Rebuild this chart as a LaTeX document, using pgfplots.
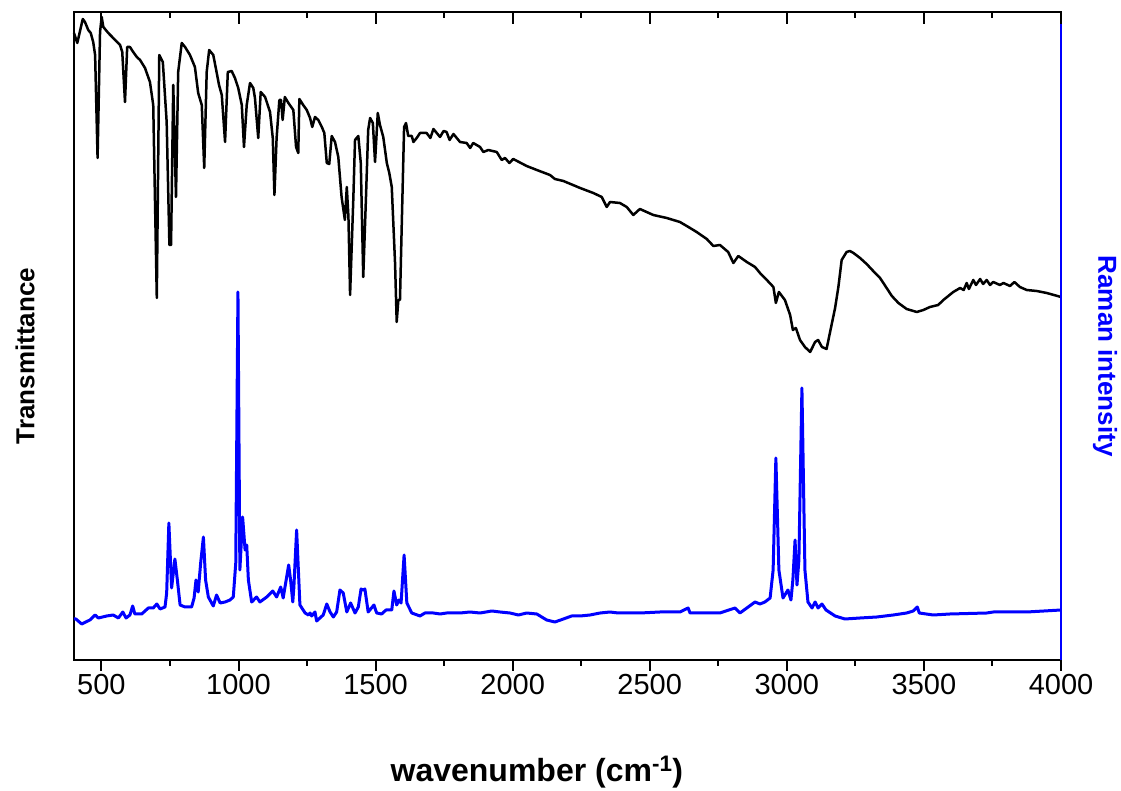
\documentclass[border=0pt]{standalone}
\usepackage{fontspec}
\setmainfont{Liberation Sans}
\usepackage{pgfplots}
\pgfplotsset{compat=1.18}
\usepackage{pgfplotstable}

% IR transmittance (arbitrary units)
\pgfplotstableread{
wn T
400 627
412 617
432 641
440 638
452 630
461 627
470 618
477 605
486 502
495 628
501 643
507 633
525 627
543 622
568 615
576 608
586 558
594 613
604 613
616 608
629 603
641 600
659 592
677 578
689 555
702 362
711 605
724 598
738 538
748 415
754 415
762 575
772 463
780 588
793 617
805 613
823 605
841 593
853 567
866 555
875 492
884 588
893 610
908 605
920 588
929 575
939 565
951 518
961 588
975 589
987 582
999 572
1012 555
1020 513
1030 555
1042 577
1054 572
1060 562
1072 522
1081 568
1097 563
1115 548
1125 522
1131 465
1139 522
1149 560
1155 560
1161 540
1169 563
1182 557
1200 550
1210 513
1218 507
1222 561
1236 555
1249 550
1261 542
1269 533
1279 543
1291 540
1304 533
1313 527
1322 497
1331 496
1340 524
1352 518
1364 503
1376 463
1388 440
1395 473
1401 443
1407 365
1419 463
1425 520
1437 524
1446 497
1455 383
1465 463
1473 530
1480 542
1490 537
1498 498
1508 547
1516 535
1528 523
1541 497
1550 487
1559 473
1571 397
1577 338
1583 360
1589 360
1595 430
1604 533
1611 537
1619 524
1632 524
1638 518
1650 522
1662 527
1686 527
1700 522
1711 531
1735 523
1748 529
1759 528
1770 520
1784 526
1808 518
1832 517
1845 512
1856 517
1881 513
1893 508
1911 510
1942 508
1960 500
1972 502
1988 497
2002 501
2051 494
2088 490
2136 485
2154 481
2185 479
2246 472
2294 467
2325 463
2343 453
2355 458
2391 457
2416 453
2440 445
2464 451
2513 445
2562 442
2610 438
2641 433
2671 428
2708 421
2732 414
2756 415
2786 408
2805 397
2823 404
2854 398
2884 393
2902 387
2927 380
2951 373
2960 357
2971 368
2993 360
3012 345
3022 330
3033 332
3048 320
3066 313
3085 308
3103 318
3114 320
3128 313
3145 311
3157 327
3176 352
3188 373
3200 400
3218 408
3230 409
3243 407
3267 402
3291 396
3315 389
3340 382
3364 372
3383 364
3407 357
3437 351
3474 348
3498 350
3522 353
3552 355
3571 360
3607 368
3632 372
3645 370
3656 377
3664 371
3680 380
3690 375
3705 381
3716 376
3729 380
3741 375
3753 378
3777 375
3790 377
3814 374
3830 378
3850 373
3875 370
3911 369
3948 367
4000 363
}\irdata

% Raman intensity (arbitrary units)
\pgfplotstableread{
wn R
400 41
407 41
428 36
458 40
477 45
489 42
519 44
543 45
562 42
578 48
590 42
604 45
614 54
622 46
647 46
671 52
689 52
702 56
714 51
732 53
738 67
746 137
756 72
768 101
777 80
787 55
805 53
829 53
838 62
845 80
853 68
862 97
872 123
880 80
890 63
908 54
920 65
933 57
951 58
969 60
981 63
990 97
998 368
1005 90
1015 143
1024 110
1030 115
1036 80
1048 58
1066 63
1078 58
1103 63
1125 69
1139 63
1154 73
1163 62
1172 77
1183 95
1190 80
1198 58
1202 73
1212 130
1220 80
1224 55
1243 47
1255 45
1261 47
1267 44
1279 48
1285 39
1297 42
1309 45
1322 56
1334 48
1346 43
1358 48
1370 70
1382 67
1395 48
1409 57
1425 47
1437 53
1447 71
1455 70
1461 71
1473 48
1494 55
1504 47
1522 46
1538 50
1559 50
1567 69
1577 55
1585 60
1593 57
1604 105
1614 57
1632 47
1662 44
1680 47
1711 47
1735 46
1759 47
1808 47
1844 48
1881 47
1924 49
1954 48
1990 47
2021 45
2051 47
2088 46
2124 40
2154 38
2185 41
2215 44
2246 44
2282 45
2319 47
2355 48
2385 47
2464 47
2537 48
2610 48
2640 52
2647 47
2756 47
2811 52
2829 47
2884 58
2902 56
2920 58
2939 62
2950 90
2960 202
2971 90
2986 62
3004 70
3015 60
3022 80
3030 120
3037 75
3044 100
3055 272
3066 90
3077 58
3092 52
3103 58
3114 52
3128 56
3143 50
3176 44
3212 41
3267 42
3328 43
3388 45
3437 47
3461 49
3476 53
3483 47
3534 45
3595 46
3729 47
3753 48
3875 48
4000 50
}\ramandata

\begin{document}
\begin{tikzpicture}
\begin{axis}[
  width=987pt, height=648pt, scale only axis,
  xmin=400, xmax=4000, ymin=0, ymax=648,
  xtick={500,1000,...,4000},
  minor x tick num=1,
  xtick pos=left,
  ytick=\empty,
  tick align=outside,
  major tick length=11pt, minor tick length=6pt,
  every tick/.style={black, line width=2pt},
  axis line style={line width=2.5pt},
  xticklabel style={font=\fontsize{29}{34}\selectfont},
  /pgf/number format/1000 sep={},
  /pgf/number format/assume math mode=true,
  xlabel={wavenumber (cm\textsuperscript{-1})},
  xlabel style={font=\fontsize{32}{38}\selectfont\bfseries, at={(axis description cs:0.469,-0.173)}, anchor=center},
  ylabel={Transmittance},
  ylabel style={font=\fontsize{26}{30}\selectfont\bfseries, at={(axis description cs:-0.0496,0.469)}, anchor=center},
  clip=false,
]
\addplot[black, line width=2.5pt, line join=round] table[x=wn,y=T]{\irdata};
\addplot[blue, line width=3pt, line join=round] table[x=wn,y=R]{\ramandata};
\draw[blue, line width=2.5pt] (rel axis cs:1,0) -- (rel axis cs:1,1);
\node[rotate=-90, text=blue, font=\fontsize{26}{30}\selectfont\bfseries, anchor=center] at (axis description cs:1.0446,0.469) {Raman intensity};
\end{axis}
\begin{axis}[
  width=987pt, height=648pt, scale only axis,
  xmin=400, xmax=4000, ymin=0, ymax=648,
  axis x line*=top, axis y line=none,
  xtick={500,1000,...,4000},
  minor x tick num=1,
  tick align=inside,
  xticklabels={},
  major tick length=12pt, minor tick length=6pt,
  every tick/.style={black, line width=2pt},
  axis line style={line width=2pt, -},
]
\end{axis}
\path (current axis.south west) +(-74pt,-127pt) (current axis.north east) +(60pt,12pt);
\end{tikzpicture}
\end{document}
